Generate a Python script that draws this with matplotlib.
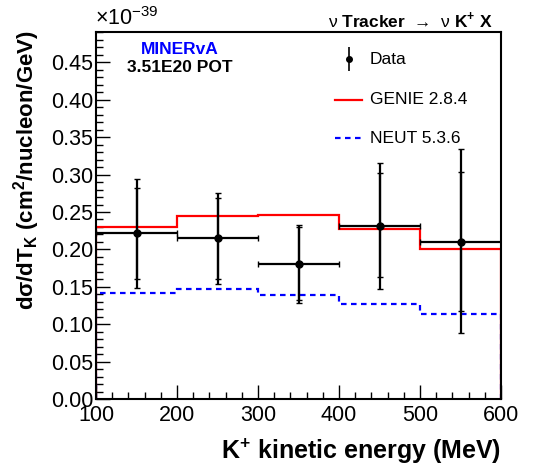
import numpy as np
import matplotlib.pyplot as plt
from matplotlib.ticker import MultipleLocator, FormatStrFormatter

plt.rcParams['font.family'] = ['Liberation Sans', 'DejaVu Sans']
plt.rcParams['mathtext.fontset'] = 'custom'
plt.rcParams['mathtext.rm'] = 'Liberation Sans'
plt.rcParams['mathtext.bf'] = 'Liberation Sans:bold'

# bins (MeV) and cross-section values (x 1e-39)
edges = [100, 200, 300, 400, 500, 600]
centers = [150, 250, 350, 450, 550]
data = [0.222, 0.215, 0.180, 0.231, 0.210]
tot_hi = [0.294, 0.276, 0.233, 0.316, 0.334]
tot_lo = [0.149, 0.154, 0.128, 0.147, 0.088]
stat_hi = [0.282, 0.269, 0.2295, 0.302, 0.303]
stat_lo = [0.161, 0.161, 0.133, 0.163, 0.118]
genie = [0.230, 0.245, 0.246, 0.227, 0.201]
neut = [0.142, 0.1466, 0.139, 0.1266, 0.113]

fig = plt.figure(figsize=(5.42, 4.67), dpi=100)
ax = fig.add_axes([96 / 542, 68 / 467, 405 / 542, 367 / 467])

ax.stairs(genie, edges, baseline=0, color='red', lw=1.6, zorder=2)
ax.stairs(neut, edges, baseline=0, color='blue', lw=1.6, ls=(0, (2.5, 2)), zorder=2)

d = np.array(data)
ax.errorbar(centers, d, yerr=[d - np.array(tot_lo), np.array(tot_hi) - d],
            fmt='none', ecolor='black', elinewidth=1.6, capsize=2, capthick=1, zorder=3)
ax.errorbar(centers, d, xerr=50, yerr=[d - np.array(stat_lo), np.array(stat_hi) - d],
            fmt='o', color='black', ms=5, elinewidth=1.6, capsize=2, capthick=1, zorder=4)

ax.set_xlim(100, 600)
ax.set_ylim(0, 0.4906)
ax.xaxis.set_major_locator(MultipleLocator(100))
ax.xaxis.set_minor_locator(MultipleLocator(20))
ax.yaxis.set_major_locator(MultipleLocator(0.05))
ax.yaxis.set_minor_locator(MultipleLocator(0.01))
ax.yaxis.set_major_formatter(FormatStrFormatter('%.2f'))
ax.tick_params(which='both', direction='in', top=False, right=False, labelsize=15.5, width=1)
ax.tick_params(which='major', length=10, pad=2)
ax.tick_params(which='minor', length=5)
ax.tick_params(axis='x', pad=4)
for s in ax.spines.values():
    s.set_linewidth(1.5)

ax.set_xlabel(r'K$^{\mathbf{+}}$ kinetic energy (MeV)', fontsize=18, fontweight='bold',
              loc='right', labelpad=8)
ax.set_ylabel(r'dσ/dT$_{\mathbf{K}}$ (cm$^{\mathbf{2}}$/nucleon/GeV)', fontsize=16,
              fontweight='bold', loc='top')
ax.yaxis.set_label_coords(-0.133, 1.005)

fig.text(95 / 542, 1 - 19 / 467, r'$\times$10$^{\mathrm{-39}}$', fontsize=15.5, va='center', ha='left')
fig.text(493 / 542, 1 - 20 / 467,
         r'$\mathrm{\nu}$ Tracker $\;\mathrm{→}\;$ $\mathrm{\nu}$ K$^{\mathbf{+}}$ X',
         fontsize=12.5, fontweight='bold', ha='right', va='center')

ax.text(204, 0.4666, 'MINERvA', color='blue', fontsize=12.5, fontweight='bold', ha='center', va='center')
ax.text(204, 0.4425, '3.51E20 POT', color='black', fontsize=12.5, fontweight='bold', ha='center', va='center')

# legend
ax.errorbar([412], [0.4545], yerr=[[0.016], [0.016]], fmt='o', color='black', ms=4, elinewidth=1.2)
ax.plot([395, 428], [0.4, 0.4], color='red', lw=1.6)
ax.plot([395, 428], [0.3485, 0.3485], color='blue', lw=1.6, ls=(0, (2.5, 2)))
ax.text(438, 0.4545, 'Data', fontsize=12.5, va='center')
ax.text(438, 0.4, 'GENIE 2.8.4', fontsize=12.5, va='center')
ax.text(438, 0.3485, 'NEUT 5.3.6', fontsize=12.5, va='center')

fig.savefig('out.png', dpi=100)
